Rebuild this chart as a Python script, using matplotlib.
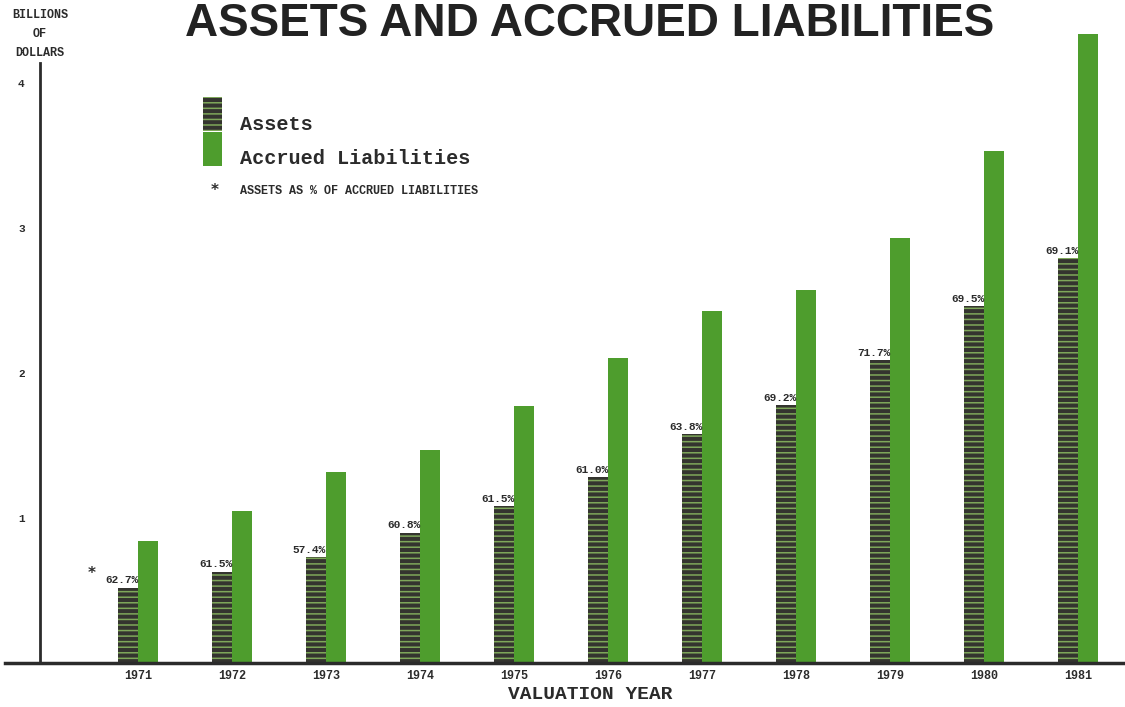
'''Assets and accrued liabilities by valuation year, 1971-1981'''

import numpy as np
import matplotlib.pyplot as plt
from matplotlib.patches import Rectangle

years = ['1971', '1972', '1973', '1974', '1975', '1976',
         '1977', '1978', '1979', '1980', '1981']
assets = [0.52, 0.63, 0.73, 0.90, 1.08, 1.28, 1.58, 1.78, 2.09, 2.46, 2.79]
liabilities = [0.84, 1.05, 1.32, 1.47, 1.77, 2.10, 2.43, 2.57, 2.93, 3.53, 4.34]
pct_labels = ['62.7%', '61.5%', '57.4%', '60.8%', '61.5%', '61.0%',
              '63.8%', '69.2%', '71.7%', '69.5%', '69.1%']
yticks = [1, 2, 3, 4]

DARK = '#34342f'
STRIPE = '#7fa75a'
GREEN = '#4e9d2d'
INK = '#2b2b2b'
MONO = 'Liberation Mono'

plt.rcParams['hatch.color'] = STRIPE
plt.rcParams['hatch.linewidth'] = 1.1


def make_plot():
    fig = plt.figure(figsize=(11.25, 7.07), dpi=100)
    ax = fig.add_axes([5 / 1125, 44 / 707, 1120 / 1125, 663 / 707])

    x = np.arange(len(years))
    w = 0.21
    ax.bar(x - w / 2, assets, width=w, color=DARK, edgecolor=STRIPE,
           hatch='---', linewidth=0, clip_on=False, zorder=2)
    ax.bar(x + w / 2, liabilities, width=w, color=GREEN, linewidth=0,
           clip_on=False, zorder=2)

    for xi, a, lab in zip(x, assets, pct_labels):
        ax.text(xi, a + 0.015, lab, ha='right', va='bottom', fontsize=8,
                fontweight='bold', family=MONO, color=INK,
                bbox=dict(facecolor='white', edgecolor='none', pad=0.3),
                zorder=3)
    ax.text(x[0] - 0.49, assets[0] + 0.1, '*', ha='center', va='center',
            fontsize=11, fontweight='bold', color=INK)

    ax.set_xlim(-1.415, 10.5)
    ax.set_ylim(0, 663 / 145)

    for side in ['top', 'right']:
        ax.spines[side].set_visible(False)
    ax.spines['left'].set_position(('data', -1.043))
    ax.spines['left'].set_bounds(0, 4.14)
    ax.spines['left'].set_linewidth(2)
    ax.spines['left'].set_color(INK)
    ax.spines['bottom'].set_linewidth(2.5)
    ax.spines['bottom'].set_color(INK)

    ax.set_yticks(yticks)
    ax.set_yticklabels([str(t) for t in yticks], fontsize=8,
                       fontweight='bold', family=MONO, color=INK)
    ax.set_xticks(x)
    ax.set_xticklabels(years, fontsize=8.5, fontweight='bold', family=MONO,
                       color=INK)
    ax.tick_params(axis='y', length=0, pad=11)
    ax.tick_params(axis='x', length=0, pad=5)

    ax.set_xlabel('VALUATION YEAR', fontsize=14, fontweight='bold',
                  family=MONO, color=INK)
    ax.xaxis.set_label_coords(585 / 1120, -23 / 663)

    fig.text(590 / 1125, 1 - 36 / 707, 'ASSETS AND ACCRUED LIABILITIES',
             ha='center', va='baseline', fontsize=33, fontweight='bold',
             family='Liberation Sans', color='#222222')
    fig.text(40 / 1125, 1 - 34 / 707, 'BILLIONS\nOF\nDOLLARS', ha='center',
             va='center', fontsize=8.5, fontweight='bold', family=MONO,
             linespacing=1.75, color=INK)

    # legend
    fig.add_artist(Rectangle((203 / 1125, 1 - 131 / 707), 19 / 1125, 34 / 707,
                             transform=fig.transFigure, facecolor=DARK,
                             edgecolor=STRIPE, hatch='---', linewidth=0))
    fig.add_artist(Rectangle((203 / 1125, 1 - 166 / 707), 19 / 1125, 34 / 707,
                             transform=fig.transFigure, facecolor=GREEN,
                             linewidth=0))
    fig.text(240 / 1125, 1 - 124 / 707, 'Assets', ha='left', va='center',
             fontsize=14.5, fontweight='bold', family=MONO, color=INK)
    fig.text(240 / 1125, 1 - 158 / 707, 'Accrued Liabilities', ha='left',
             va='center', fontsize=14.5, fontweight='bold', family=MONO,
             color=INK)
    fig.text(215 / 1125, 1 - 191 / 707, '*', ha='center', va='center',
             fontsize=11, fontweight='bold', color=INK)
    fig.text(240 / 1125, 1 - 191 / 707, 'ASSETS AS % OF ACCRUED LIABILITIES',
             ha='left', va='center', fontsize=8.5, fontweight='bold',
             family=MONO, color=INK)

    fig.savefig('out.png', dpi=100)


if __name__ == "__main__":
    make_plot()
